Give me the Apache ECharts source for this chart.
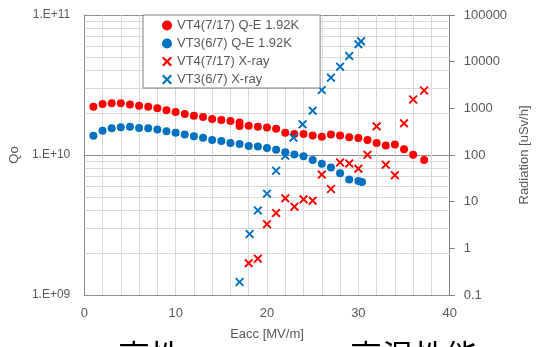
<!DOCTYPE html>
<html>
<head>
<meta charset="utf-8">
<script src="https://cdn.jsdelivr.net/npm/echarts@6/dist/echarts.min.js"></script>
<style>
html,body{margin:0;padding:0;background:#fff;}
#c{width:539px;height:347px;}
</style>
</head>
<body>
<div id="c"></div>
<script>
// ---- data ----
const seriesNames = ['VT4(7/17) Q-E 1.92K', 'VT3(6/7) Q-E 1.92K', 'VT4(7/17) X-ray', 'VT3(6/7) X-ray'];

const eaccVT4Q = [1,2,3,4,5,6,7,8,9,10,11,12,13,14,15,16,17,17,18,19,20,21,22,23,24,25,26,27,28,29,30,31,32,33,34,35,36,37.2];
const qVT4 = [2.21e10,2.31e10,2.34e10,2.34e10,2.29e10,2.25e10,2.21e10,2.16e10,2.09e10,2.03e10,1.96e10,1.91e10,1.87e10,1.81e10,1.78e10,1.75e10,1.71e10,1.61e10,1.62e10,1.59e10,1.57e10,1.54e10,1.44e10,1.41e10,1.41e10,1.38e10,1.35e10,1.40e10,1.38e10,1.34e10,1.32e10,1.28e10,1.22e10,1.17e10,1.19e10,1.10e10,1.005e10,9.2e9];

const eaccVT3Q = [1,2,3,4,5,6,7,8,9,10,11,12,13,14,15,16,17,18,19,20,21,22,23,24,25,26,27,28,29,30,30.4];
const qVT3 = [1.37e10,1.49e10,1.55e10,1.58e10,1.59e10,1.56e10,1.55e10,1.52e10,1.48e10,1.44e10,1.40e10,1.36e10,1.33e10,1.28e10,1.26e10,1.22e10,1.20e10,1.16e10,1.15e10,1.12e10,1.09e10,1.045e10,1.01e10,9.8e9,9.2e9,8.67e9,8.14e9,7.4e9,6.68e9,6.52e9,6.41e9];

const eaccVT4X = [18,19,20,21,22,23,24,25,26,27,28,29,30,31,32,33,34,35,36,37.2];
const xrayVT4 = [0.48,0.60,3.3,5.7,11.8,7.8,11.2,10.5,38,18.7,69,66,51,101,412,62,37,477,1545,2410];

const eaccVT3X = [17,18.1,19,20,21,22,22.9,23.9,25,26,27,28,29,30,30.3];
const xrayVT3 = [0.19,2.03,6.5,14.8,46,96,235,454,890,2470,4530,7800,13200,23500,27300];

const xTicks = [0, 10, 20, 30, 40];
const qRange = [1e9, 1e11];
const radRange = [0.1, 100000];
const qMinorGrid = [2e9,3e9,4e9,5e9,6e9,7e9,8e9,9e9,2e10,3e10,4e10,5e10,6e10,7e10,8e10,9e10];
const bottomTexts = ['高性', '高温性能'];

// ---- chart ----
const zip = (a, b) => a.map((v, i) => [v, b[i]]);
const RED = '#FF0000', BLUE = '#0070C0';
const XMARK = 'path://M0,1.5L1.5,0L5,3.5L8.5,0L10,1.5L6.5,5L10,8.5L8.5,10L5,6.5L1.5,10L0,8.5L3.5,5Z';
const FONT = '"Liberation Sans", Arial, sans-serif';
const TXT = '#595959';
const AX = '#8c8c8c';

const chart = echarts.init(document.getElementById('c'), null, {renderer: 'canvas'});
chart.setOption({
  animation: false,
  backgroundColor: '#fff',
  textStyle: {fontFamily: FONT},
  grid: {left: 84, right: 70, top: 15, bottom: 52},
  legend: {
    left: 143, top: 15, orient: 'vertical', z: 20,
    backgroundColor: '#fff', borderColor: '#7f7f7f', borderWidth: 1,
    padding: [3, 21, 1, 19],
    itemWidth: 10, itemHeight: 10, itemGap: 3,
    textStyle: {fontSize: 13, color: TXT, fontFamily: FONT, lineHeight: 15},
    data: [
      {name: seriesNames[0], icon: 'circle', itemStyle: {color: RED, opacity: 1}},
      {name: seriesNames[1], icon: 'circle', itemStyle: {color: BLUE, opacity: 1}},
      {name: seriesNames[2], icon: XMARK, itemStyle: {color: RED, opacity: 1}},
      {name: seriesNames[3], icon: XMARK, itemStyle: {color: BLUE, opacity: 1}}
    ]
  },
  xAxis: {
    type: 'value', min: xTicks[0], max: xTicks[xTicks.length - 1], interval: 10,
    name: 'Eacc [MV/m]', nameLocation: 'middle', nameGap: 33,
    nameTextStyle: {color: TXT, fontSize: 13, fontFamily: FONT},
    axisLine: {show: true, lineStyle: {color: AX, width: 1}},
    axisTick: {show: false},
    axisLabel: {color: TXT, fontSize: 13, margin: 12, fontFamily: FONT},
    splitLine: {show: true, lineStyle: {color: '#d9d9d9', width: 1}},
    minorTick: {show: false, splitNumber: 5},
    minorSplitLine: {show: true, lineStyle: {color: '#d9d9d9', width: 1}}
  },
  yAxis: [
    {
      type: 'log', logBase: 10, min: qRange[0], max: qRange[1],
      name: 'Qo', nameLocation: 'middle', nameRotate: 90, nameGap: 57,
      nameTextStyle: {color: TXT, fontSize: 13, fontFamily: FONT},
      axisLine: {show: true, lineStyle: {color: AX, width: 1}},
      axisTick: {show: false},
      axisLabel: {
        color: TXT, fontSize: 12, margin: 14, fontFamily: FONT,
        formatter: v => { const e = Math.round(Math.log10(v)); return '1.E+' + (e < 10 ? '0' : '') + e; }
      },
      splitLine: {show: true, lineStyle: {color: '#8c8c8c', width: 1}}
    },
    {
      type: 'log', logBase: 10, min: radRange[0], max: radRange[1],
      name: 'Radiation [uSv/h]', nameLocation: 'middle', nameRotate: 90, nameGap: 52,
      nameTextStyle: {color: TXT, fontSize: 13, fontFamily: FONT},
      axisLine: {show: true, lineStyle: {color: '#7f7f7f', width: 1}},
      axisTick: {show: true, inside: false, length: 5, lineStyle: {color: '#7f7f7f'}},
      axisLabel: {
        color: TXT, fontSize: 13, margin: 14, fontFamily: FONT,
        formatter: v => { const e = Math.round(Math.log10(v)); return e < 0 ? '0.1' : String(Math.pow(10, e)); }
      },
      splitLine: {show: false}
    }
  ],
  graphic: [
    {type: 'text', left: 118, top: 340, silent: true,
     style: {text: bottomTexts[0], fontSize: 32, fill: '#000', fontFamily: '"Noto Sans CJK JP"'}},
    {type: 'text', left: 350, top: 340, silent: true,
     style: {text: bottomTexts[1], fontSize: 32, fill: '#000', fontFamily: '"Noto Sans CJK JP"'}}
  ],
  series: [
    {
      type: 'line', name: '_grid', data: [], z: 1, silent: true,
      xAxisIndex: 0, yAxisIndex: 0,
      markLine: {
        silent: true, symbol: ['none', 'none'], animation: false, z: 1,
        label: {show: false},
        lineStyle: {color: '#d9d9d9', type: 'solid', width: 1},
        emphasis: {disabled: true},
        data: qMinorGrid.map(v => ({yAxis: v}))
      }
    },
    {
      type: 'scatter', name: seriesNames[0], yAxisIndex: 0, z: 3,
      symbol: 'circle', symbolSize: 8, itemStyle: {color: RED, opacity: 1},
      data: zip(eaccVT4Q, qVT4)
    },
    {
      type: 'scatter', name: seriesNames[1], yAxisIndex: 0, z: 3,
      symbol: 'circle', symbolSize: 8, itemStyle: {color: BLUE, opacity: 1},
      data: zip(eaccVT3Q, qVT3)
    },
    {
      type: 'scatter', name: seriesNames[2], yAxisIndex: 1, z: 3,
      symbol: XMARK, symbolSize: 9, itemStyle: {color: RED, opacity: 1},
      data: zip(eaccVT4X, xrayVT4)
    },
    {
      type: 'scatter', name: seriesNames[3], yAxisIndex: 1, z: 3,
      symbol: XMARK, symbolSize: 9, itemStyle: {color: BLUE, opacity: 1},
      data: zip(eaccVT3X, xrayVT3)
    }
  ]
});
</script>
</body>
</html>
